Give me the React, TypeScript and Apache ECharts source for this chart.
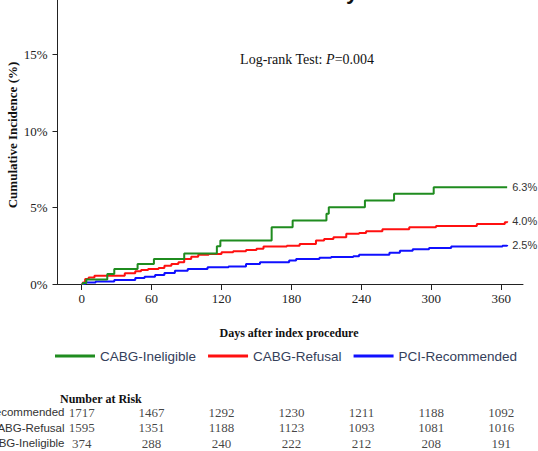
import React, { useEffect, useRef } from "react";
import * as echarts from "echarts";

const seriesNames = ["CABG-Ineligible", "CABG-Refusal", "PCI-Recommended"];
const seriesColors = ["#1f8c1f", "#ff1010", "#1010ff"];
const endLabels = ["6.3%", "4.0%", "2.5%"];

// [day, cumulative incidence %]
const ineligibleCurve: [number, number][] = [
  [0, 0], [1, 0.07], [4, 0.3], [22, 0.66], [28, 0.98], [48, 1.31], [62, 1.64],
  [88, 2.0], [116, 2.47], [119, 2.84], [163, 3.71], [181, 4.15], [210, 4.59],
  [212, 5.02], [243, 5.46], [268, 5.9], [302, 6.33], [365, 6.33],
];
const refusalCurve: [number, number][] = [
  [0, 0], [1, 0.1], [3, 0.33], [6, 0.43], [11, 0.54], [37, 0.7], [46, 0.83],
  [51, 0.92], [57, 0.98], [66, 1.05], [71, 1.2], [77, 1.31], [83, 1.42],
  [88, 1.64], [94, 1.79], [100, 1.92], [109, 1.97], [120, 2.07], [130, 2.14],
  [141, 2.23], [150, 2.3], [156, 2.45], [176, 2.51], [187, 2.62], [201, 2.84],
  [208, 2.95], [216, 3.06], [227, 3.28], [238, 3.34], [244, 3.45], [258, 3.58],
  [281, 3.71], [304, 3.8], [339, 3.93], [363, 4.04], [365, 4.1],
];
const recommendedCurve: [number, number][] = [
  [0, 0], [3, 0.1], [12, 0.17], [28, 0.26], [46, 0.39], [54, 0.48], [63, 0.59],
  [71, 0.72], [80, 0.87], [91, 0.98], [108, 1.09], [126, 1.15], [141, 1.31],
  [153, 1.42], [178, 1.53], [184, 1.64], [204, 1.72], [214, 1.77], [233, 1.82],
  [238, 1.92], [264, 2.05], [273, 2.18], [284, 2.28], [298, 2.36], [317, 2.45],
  [361, 2.5], [365, 2.55],
];

const xTicks = [0, 60, 120, 180, 240, 300, 360];
const yTicks = [0, 5, 10, 15];

const riskRows = ["PCI-Recommended", "CABG-Refusal", "CABG-Ineligible"];
const riskRecommended = [1717, 1467, 1292, 1230, 1211, 1188, 1092];
const riskRefusal = [1595, 1351, 1188, 1123, 1093, 1081, 1016];
const riskIneligible = [374, 288, 240, 222, 212, 208, 191];

const SERIF = "'Liberation Serif', 'Times New Roman', serif";
const SANS = "'Liberation Sans', Arial, sans-serif";

export default function App() {
  const ref = useRef<HTMLDivElement>(null);

  useEffect(() => {
    if (!ref.current) return;
    const chart = echarts.init(ref.current, undefined, { renderer: "svg" });

    const curves = [ineligibleCurve, refusalCurve, recommendedCurve];
    const lineSeries = curves.map((data, i) => ({
      name: seriesNames[i],
      type: "line",
      xAxisIndex: 0,
      yAxisIndex: 0,
      step: "end",
      symbol: "none",
      data,
      lineStyle: { color: seriesColors[i], width: 2 },
      itemStyle: { color: seriesColors[i] },
      endLabel: {
        show: true,
        formatter: endLabels[i],
        distance: 5,
        fontFamily: SANS,
        fontSize: 11,
        color: "#333",
      },
      z: 3 - i,
    }));

    const riskValues = [riskRecommended, riskRefusal, riskIneligible];
    const riskSeries = riskValues.map((vals, r) => ({
      name: "risk-" + riskRows[r],
      type: "scatter",
      xAxisIndex: 1,
      yAxisIndex: 1,
      symbolSize: 1,
      itemStyle: { color: "rgba(0,0,0,0)" },
      data: xTicks.map((d, i) => [d, riskRows[r], vals[i]]),
      label: {
        show: true,
        position: "inside",
        formatter: (p: any) => String(p.value[2]),
        fontFamily: SERIF,
        fontSize: 13,
        color: "#111",
      },
      silent: true,
    }));

    chart.setOption({
      animation: false,
      backgroundColor: "#ffffff",
      grid: [
        { left: 57.5, top: 0, width: 465.5, height: 284, outerBoundsMode: "none", containLabel: false },
        { left: 57.5, top: 404.25, width: 465.5, height: 46.5, outerBoundsMode: "none", containLabel: false },
      ],
      xAxis: [
        {
          type: "value",
          gridIndex: 0,
          min: -20.7,
          max: 378.6,
          splitLine: { show: false },
          axisLine: { show: true, onZero: false, lineStyle: { color: "#222", width: 1 } },
          axisTick: { show: true, customValues: xTicks, length: 6, lineStyle: { color: "#222" } },
          axisLabel: {
            customValues: xTicks,
            fontFamily: SERIF,
            fontSize: 13,
            color: "#222",
            margin: 8,
          },
        },
        {
          type: "value",
          gridIndex: 1,
          min: -20.7,
          max: 378.6,
          show: false,
        },
      ],
      yAxis: [
        {
          type: "value",
          gridIndex: 0,
          min: 0,
          max: 18.58,
          splitLine: { show: false },
          axisLine: { show: true, onZero: false, lineStyle: { color: "#222", width: 1 } },
          axisTick: { show: true, customValues: yTicks, length: 5, lineStyle: { color: "#222" } },
          axisLabel: {
            customValues: yTicks,
            formatter: "{value}%",
            fontFamily: SERIF,
            fontSize: 13,
            color: "#222",
            margin: 10,
          },
        },
        {
          type: "category",
          gridIndex: 1,
          data: riskRows,
          inverse: true,
          offset: -7,
          axisLine: { show: false },
          axisTick: { show: false },
          splitLine: { show: false },
          axisLabel: {
            interval: 0,
            hideOverlap: false,
            align: "right",
            fontFamily: SANS,
            fontSize: 11.5,
            color: "#333",
            margin: 0,
          },
        },
      ],
      legend: {
        data: seriesNames,
        left: 50,
        top: 344,
        icon: "rect",
        itemWidth: 40,
        itemHeight: 3,
        itemGap: 12,
        textStyle: { fontFamily: SANS, fontSize: 13.5, color: "#34405a" },
      },
      graphic: [
        {
          type: "text",
          x: 352,
          y: 2,
          style: {
            text: "y",
            font: "bold 22px 'Liberation Sans', Arial, sans-serif",
            fill: "#111",
            align: "center",
            verticalAlign: "bottom",
          },
        },
        {
          type: "text",
          x: 307,
          y: 59,
          style: {
            text: "{a|Log-rank Test: }{b|P}{a|=0.004}",
            align: "center",
            verticalAlign: "middle",
            rich: {
              a: { fontFamily: SERIF, fontSize: 14, fill: "#111", color: "#111" },
              b: { fontFamily: SERIF, fontSize: 14, fontStyle: "italic", fill: "#111", color: "#111" },
            },
          },
        },
        {
          type: "text",
          x: 12,
          y: 135,
          rotation: Math.PI / 2,
          style: {
            text: "Cumulative Incidence (%)",
            font: "bold 13px 'Liberation Serif', 'Times New Roman', serif",
            fill: "#111",
            align: "center",
            verticalAlign: "middle",
          },
        },
        {
          type: "text",
          x: 289,
          y: 333,
          style: {
            text: "Days after index procedure",
            font: "bold 12px 'Liberation Serif', 'Times New Roman', serif",
            fill: "#111",
            align: "center",
            verticalAlign: "middle",
          },
        },
        {
          type: "text",
          x: 60,
          y: 399,
          style: {
            text: "Number at Risk",
            font: "bold 12px 'Liberation Serif', 'Times New Roman', serif",
            fill: "#111",
            align: "left",
            verticalAlign: "middle",
          },
        },
      ],
      series: [...lineSeries, ...riskSeries],
    });

    return () => chart.dispose();
  }, []);

  return (
    <div
      ref={ref}
      style={{ position: "absolute", left: 0, top: 0, width: 538, height: 451, background: "#fff" }}
    />
  );
}
